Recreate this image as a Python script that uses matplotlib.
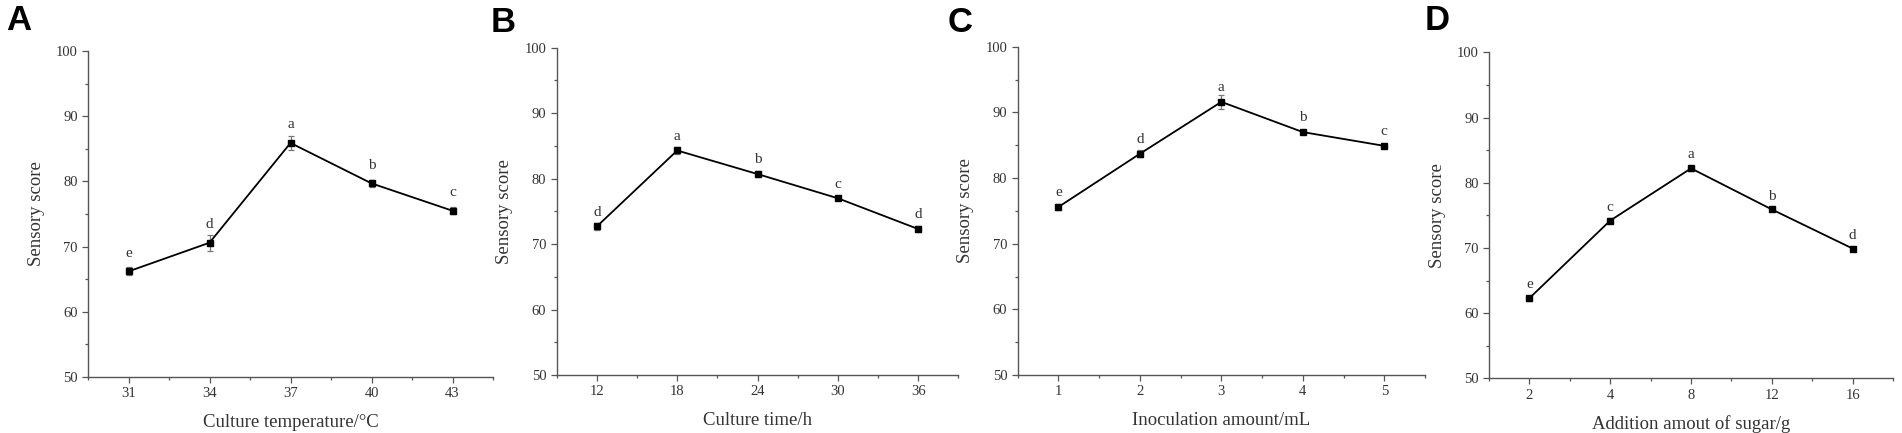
import matplotlib.pyplot as plt
from matplotlib.ticker import MultipleLocator

# panel data
temp_labels = ['31', '34', '37', '40', '43']
temp_score = [66.2, 70.6, 85.9, 79.7, 75.5]
temp_err = [0.6, 1.2, 1.1, 0.5, 0.5]
temp_sig = ['e', 'd', 'a', 'b', 'c']

time_labels = ['12', '18', '24', '30', '36']
time_score = [72.7, 84.3, 80.7, 77.0, 72.3]
time_err = [0.5, 0.5, 0.5, 0.3, 0.5]
time_sig = ['d', 'a', 'b', 'c', 'd']

inoc_labels = ['1', '2', '3', '4', '5']
inoc_score = [75.6, 83.7, 91.6, 87.0, 84.9]
inoc_err = [0.5, 0.5, 1.1, 0.2, 0.2]
inoc_sig = ['e', 'd', 'a', 'b', 'c']

sugar_labels = ['2', '4', '8', '12', '16']
sugar_score = [62.3, 74.2, 82.2, 75.9, 69.9]
sugar_err = [0.4, 0.4, 0.4, 0.2, 0.2]
sugar_sig = ['e', 'c', 'a', 'b', 'd']

panels = [
    ('A', temp_labels, temp_score, temp_err, temp_sig, 'Culture temperature/\u00b0C'),
    ('B', time_labels, time_score, time_err, time_sig, 'Culture time/h'),
    ('C', inoc_labels, inoc_score, inoc_err, inoc_sig, 'Inoculation amount/mL'),
    ('D', sugar_labels, sugar_score, sugar_err, sugar_sig, 'Addition amout of sugar/g'),
]

# axes boxes in figure fraction, letter positions, gap of the a/b/c marks above the points
boxes = [
    [0.0463, 0.1293, 0.2129, 0.7529],
    [0.2927, 0.1339, 0.2112, 0.7559],
    [0.5351, 0.1339, 0.2141, 0.7582],
    [0.7829, 0.1263, 0.2124, 0.7529],
]
letter_xy = [(0.003, 0.99), (0.258, 0.985), (0.498, 0.985), (0.749, 0.99)]
sig_gap = [2.8, 2.15, 2.15, 2.05]

plt.rcParams['font.family'] = 'Liberation Serif'
axis_col = '#555555'

fig = plt.figure(figsize=(19.02, 4.33), dpi=100)

for (letter, labels, score, err, sig, xlabel), box, lxy, gap in zip(panels, boxes, letter_xy, sig_gap):
    ax = fig.add_axes(box)
    x = list(range(len(labels)))
    ax.errorbar(x, score, yerr=err, color='black', lw=1.3, marker='s', ms=5,
                ecolor='#777777', elinewidth=0.9, capsize=2.5, capthick=0.9)
    for xi, yi, s in zip(x, score, sig):
        ax.text(xi, yi + gap, s, ha='center', va='center', fontsize=11, color='#333333')

    ax.set_xlim(-0.5, 4.5)
    ax.set_ylim(50, 100)
    ax.set_xticks(x)
    ax.set_xticklabels(labels)
    ax.xaxis.set_minor_locator(MultipleLocator(0.5))
    ax.yaxis.set_major_locator(MultipleLocator(10))
    ax.yaxis.set_minor_locator(MultipleLocator(5))
    ax.tick_params(which='both', direction='out', colors=axis_col, labelcolor='#333333', labelsize=10.5)
    ax.tick_params(which='major', length=4, width=0.9)
    ax.tick_params(which='minor', length=2.5, width=0.9)
    for side in ['top', 'right']:
        ax.spines[side].set_visible(False)
    for side in ['left', 'bottom']:
        ax.spines[side].set_color(axis_col)
        ax.spines[side].set_linewidth(1.0)

    ax.set_xlabel(xlabel, fontsize=13.5, color='#333333', labelpad=10)
    ax.set_ylabel('Sensory score', fontsize=13.5, color='#333333', labelpad=8)

    fig.text(lxy[0], lxy[1], letter, ha='left', va='top', fontsize=25,
             fontweight='bold', family='Liberation Sans')

fig.savefig('out.png', dpi=100)
